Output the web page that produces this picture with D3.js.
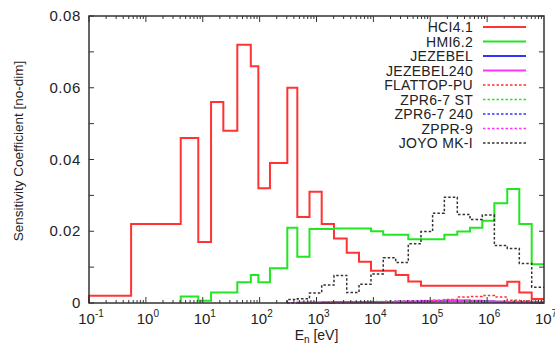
<!DOCTYPE html>
<html lang="en">
<head>
<meta charset="UTF-8">
<script src="https://d3js.org/d3.v7.min.js"></script>
<title>Sensitivity Coefficient</title>
<style>
	body { margin: 0; background: white; }
	svg { display: block; font-family: "Liberation Sans", Arial, sans-serif; fill: #222; }
</style>
</head>
<body>
<script>
	// energy group boundaries [eV]
	const edges = [0.1, 0.55, 4.1, 8.35, 14, 23, 40.5, 70, 95, 152, 307, 460, 753, 1234, 2030, 3400, 5590,
		9080, 14900, 24700, 41100, 68700, 110000, 177000, 299000, 500000, 823000, 1.34e6, 2.26e6, 3.68e6, 6.08e6, 1e7];

	// sensitivity per group (null = not drawn)
	const hci41 = [0.002, 0.022, 0.046, 0.017, 0.056, 0.048, 0.072, 0.066, 0.032, 0.039, 0.060, 0.024, 0.031, 0.022,
		0.018, 0.014, 0.0115, 0.009, 0.009, 0.0078, 0.0060, 0.0048, 0.0048, 0.0048, 0.0048, 0.0048, 0.0048, 0.0048,
		0.0059, 0.0029, 0.0011];
	const hmi62 = [null, null, 0.0018, 0.0006, 0.0029, 0.0029, 0.0058, 0.0078, 0.0058, 0.0097, 0.021, 0.0129, 0.0206,
		0.0206, 0.0208, 0.0208, 0.0208, 0.020, 0.019, 0.019, 0.0178, 0.0178, 0.0178, 0.019, 0.0199, 0.021, 0.0229,
		0.0278, 0.0318, 0.022, 0.0108];
	const jezebel = [null, null, null, null, null, null, null, null, null, null, null, 0.0001, 0.0001, 0.0001, 0.0002,
		0.0002, 0.0002, 0.0002, 0.0003, 0.0003, 0.0003, 0.0004, 0.0005, 0.0006, 0.0006, 0.0005, 0.0004, 0.0003,
		0.0002, 0.0002, 0.0001];
	const jezebel240 = [null, null, null, null, null, null, null, null, null, null, null, 0.0001, 0.0001, 0.0002,
		0.0002, 0.0002, 0.0003, 0.0003, 0.0003, 0.0004, 0.0004, 0.0005, 0.0006, 0.0007, 0.0007, 0.0006, 0.0005,
		0.0004, 0.0003, 0.0002, 0.0001];
	const flattop = [null, null, null, null, null, null, null, null, null, null, null, 0.0001, 0.0001, 0.0001, 0.0001,
		0.0002, 0.0002, 0.0002, 0.0002, 0.0003, 0.0003, 0.0004, 0.0006, 0.0010, 0.0017, 0.0018, 0.0021, 0.0017,
		0.0008, 0.0006, 0.0004];
	const zpr67st = [null, null, null, null, null, null, null, null, null, null, 0.0001, 0.0001, 0.0002, 0.0002,
		0.0002, 0.0003, 0.0003, 0.0004, 0.0004, 0.0005, 0.0006, 0.0007, 0.0008, 0.0008, 0.0007, 0.0006, 0.0005,
		0.0004, 0.0003, 0.0002, 0.0001];
	const zpr67240 = [null, null, null, null, null, null, null, null, null, null, 0.0001, 0.0001, 0.0001, 0.0002,
		0.0002, 0.0002, 0.0003, 0.0003, 0.0004, 0.0004, 0.0005, 0.0006, 0.0006, 0.0007, 0.0006, 0.0005, 0.0004,
		0.0003, 0.0002, 0.0002, 0.0001];
	const zppr9 = [null, null, null, null, null, null, null, null, null, null, 0.0001, 0.0001, 0.0001, 0.0002, 0.0002,
		0.0003, 0.0003, 0.0003, 0.0004, 0.0005, 0.0005, 0.0006, 0.0007, 0.0007, 0.0006, 0.0005, 0.0004, 0.0003,
		0.0003, 0.0002, 0.0001];
	const joyo = [null, null, null, null, null, null, null, null, null, null, 0.0010, 0.0012, 0.0028, 0.005, 0.0077,
		0.0029, 0.0052, 0.0081, 0.0126, 0.0113, 0.0165, 0.0199, 0.025, 0.0295, 0.0247, 0.0233, 0.0245, 0.016,
		0.0152, 0.011, 0.0044];

	const names = ["HCI4.1", "HMI6.2", "JEZEBEL", "JEZEBEL240", "FLATTOP-PU", "ZPR6-7 ST", "ZPR6-7 240", "ZPPR-9", "JOYO MK-I"];
	const seriesValues = [hci41, hmi62, jezebel, jezebel240, flattop, zpr67st, zpr67240, zppr9, joyo];
	const colors = ["#ff3333", "#22e622", "#3333ff", "#ff33ff", "#ff3333", "#22e622", "#3333ff", "#ff33ff", "#333333"];
	const dashed = [false, false, false, false, true, true, true, true, true];

	const yTicks = [0, 0.02, 0.04, 0.06, 0.08];
	const xTickExp = [-1, 0, 1, 2, 3, 4, 5, 6, 7];

	/*----------------- layout -----------------*/
	const W = 555, H = 347;
	const margin = { left: 89, right: 11, top: 16, bottom: 44 };

	const svg = d3.select("body").append("svg")
		.attr("width", W)
		.attr("height", H);

	const x = d3.scaleLog().domain([0.1, 1e7]).range([margin.left, W - margin.right]);
	const y = d3.scaleLinear().domain([0, 0.08]).range([H - margin.bottom, margin.top]);

	const plot = svg.append("g");

	/*----------------- step lines -----------------*/
	const line = d3.line().x(d => x(d[0])).y(d => y(d[1]));

	function stepPoints(vals) {
		const pts = [];
		let first = true;
		vals.forEach((v, i) => {
			if (v === null) return;
			if (first) { pts.push([edges[i], 0]); first = false; }
			pts.push([edges[i], v]);
			pts.push([edges[i + 1], v]);
		});
		return pts;
	}

	seriesValues.forEach((vals, i) => {
		plot.append("path")
			.attr("d", line(stepPoints(vals)))
			.attr("fill", "none")
			.attr("stroke", colors[i])
			.attr("stroke-width", dashed[i] ? 1.5 : 2)
			.attr("stroke-dasharray", dashed[i] ? "2.5,2" : null);
	});

	/*----------------- frame and ticks -----------------*/
	const x0 = margin.left, x1 = W - margin.right, y0 = H - margin.bottom, y1 = margin.top;
	const ticks = svg.append("g").attr("stroke", "#333").attr("stroke-width", 1);

	d3.range(0, 0.0801, 0.01).forEach(v => {
		ticks.append("line").attr("x1", x0).attr("x2", x0 + 5).attr("y1", y(v)).attr("y2", y(v));
		ticks.append("line").attr("x1", x1).attr("x2", x1 - 5).attr("y1", y(v)).attr("y2", y(v));
	});
	for (let e = -1; e < 7; e++) {
		for (let m = 1; m <= 9; m++) {
			const xv = x(m * Math.pow(10, e));
			const len = m === 1 ? 6 : 3;
			ticks.append("line").attr("x1", xv).attr("x2", xv).attr("y1", y0).attr("y2", y0 - len);
			ticks.append("line").attr("x1", xv).attr("x2", xv).attr("y1", y1).attr("y2", y1 + len);
		}
	}

	svg.append("rect")
		.attr("x", x0).attr("y", y1)
		.attr("width", x1 - x0).attr("height", y0 - y1)
		.attr("fill", "none")
		.attr("stroke", "#333")
		.attr("stroke-width", 1.5);

	/*----------------- tick labels -----------------*/
	svg.append("g").selectAll("text")
		.data(yTicks)
		.enter()
		.append("text")
		.attr("x", x0 - 8)
		.attr("y", d => y(d) + 5)
		.attr("text-anchor", "end")
		.attr("font-size", 15)
		.attr("letter-spacing", 0.6)
		.text(d => d === 0 ? "0" : d.toFixed(2));

	const xl = svg.append("g").selectAll("text")
		.data(xTickExp)
		.enter()
		.append("text")
		.attr("x", d => x(Math.pow(10, d)) + 2)
		.attr("y", y0 + 21)
		.attr("text-anchor", "middle")
		.attr("font-size", 15);
	xl.append("tspan").text("10");
	xl.append("tspan").attr("font-size", 10).attr("dy", -7).text(d => d);

	/*----------------- axis titles -----------------*/
	const xt = svg.append("text")
		.attr("x", (x0 + x1) / 2)
		.attr("y", H - 7)
		.attr("text-anchor", "middle")
		.attr("font-size", 14);
	xt.append("tspan").text("E");
	xt.append("tspan").attr("font-size", 10).attr("dy", 3).text("n");
	xt.append("tspan").attr("dy", -3).text(" [eV]");

	svg.append("text")
		.attr("transform", "translate(23," + 151 + ") rotate(-90)")
		.attr("text-anchor", "middle")
		.attr("font-size", 13.5)
		.text("Sensitivity Coefficient [no-dim]");

	/*----------------- legend -----------------*/
	const legend = svg.append("g");
	names.forEach((n, i) => {
		const ly = 27 + i * 14.5;
		legend.append("text")
			.attr("x", 473)
			.attr("y", ly + 5)
			.attr("text-anchor", "end")
			.attr("font-size", 14)
			.attr("letter-spacing", 0.3)
			.text(n);
		legend.append("line")
			.attr("x1", 483).attr("x2", 526)
			.attr("y1", ly).attr("y2", ly)
			.attr("stroke", colors[i])
			.attr("stroke-width", dashed[i] ? 1.5 : 2)
			.attr("stroke-dasharray", dashed[i] ? "2.5,2" : null);
	});
</script>
</body>
</html>
